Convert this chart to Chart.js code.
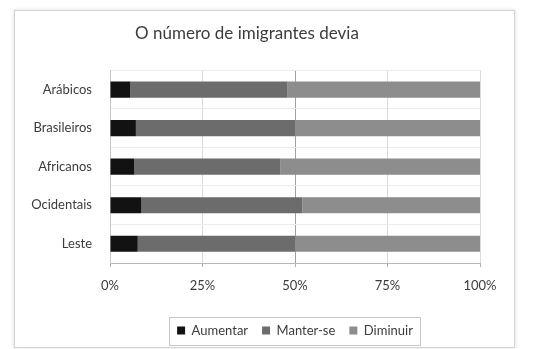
<!DOCTYPE html>
<html>
<head>
<meta charset="utf-8">
<script src="https://cdn.jsdelivr.net/npm/chart.js@4.4.1/dist/chart.umd.min.js"></script>
<style>
  html, body { margin: 0; padding: 0; background: #fff; }
  #frame {
    position: absolute; left: 14px; top: 10px; width: 499px; height: 336px;
    border: 1px solid #d4d4d4; box-shadow: 0 0 4px rgba(0,0,0,0.15); background: #fff;
  }
  #wrap { position: absolute; left: 0; top: 0; width: 536px; height: 349px; }
</style>
</head>
<body>
<div id="frame"></div>
<div id="wrap"><canvas id="chart" width="536" height="349"></canvas></div>
<script>
// data (percent of answers)
var categories = ["Arábicos", "Brasileiros", "Africanos", "Ocidentais", "Leste"];
var seriesNames = ["Aumentar", "Manter-se", "Diminuir"];
var aumentar = [5.5, 7, 6.5, 8.5, 7.5];
var manter = [42.5, 43, 39.5, 43.5, 42.5];
var diminuir = [52, 50, 54, 48, 50];
var tickValues = [0, 25, 50, 75, 100];
var colors = ["#121212", "#6c6c6c", "#8d8d8d"];

var textColor = "#3c3c3c";
var fontFamily = "Lato, 'Open Sans', sans-serif";

// legend sits under the plot area (not the whole chart) and has a box round it
var legendBox = {
    id: "legendBox",
    afterLayout: function (chart) {
        var lg = chart.legend;
        var shift = (chart.chartArea.left + chart.chartArea.right) / 2 - (lg.left + lg.right) / 2;
        lg.left += shift;
        lg.right += shift;
    },
    afterDraw: function (chart) {
        var boxes = chart.legend.legendHitBoxes;
        if (!boxes || !boxes.length) return;
        var left = boxes[0].left - 8;
        var last = boxes[boxes.length - 1];
        var right = last.left + last.width + 7;
        var top = boxes[0].top - 7;
        var bottom = boxes[0].top + boxes[0].height + 8;
        var ctx = chart.ctx;
        ctx.save();
        ctx.strokeStyle = "#c8c8c8";
        ctx.lineWidth = 1;
        ctx.strokeRect(Math.round(left) + 0.5, Math.round(top) + 0.5, Math.round(right - left), Math.round(bottom - top));
        ctx.restore();
    }
};

var ctx = document.getElementById("chart").getContext("2d");
var chart = new Chart(ctx, {
    type: "bar",
    data: {
        labels: categories,
        datasets: [{
            label: seriesNames[0],
            data: aumentar,
            backgroundColor: colors[0]
        }, {
            label: seriesNames[1],
            data: manter,
            backgroundColor: colors[1]
        }, {
            label: seriesNames[2],
            data: diminuir,
            backgroundColor: colors[2]
        }]
    },
    options: {
        indexAxis: "y",
        responsive: false,
        animation: false,
        devicePixelRatio: 1,
        layout: { padding: { left: 14, right: 56, top: 10, bottom: 2 } },
        datasets: { bar: { categoryPercentage: 0.42, barPercentage: 1 } },
        scales: {
            x: {
                stacked: true,
                min: 0,
                max: 100,
                afterBuildTicks: function (scale) {
                    scale.ticks = tickValues.map(function (v) { return { value: v }; });
                },
                afterFit: function (scale) { scale.height = 47; },
                grid: {
                    color: function (c) { return c.tick && c.tick.value === 50 ? "#a0a0a0" : "#dadada"; },
                    tickLength: 4,
                    tickColor: "#b0b0b0"
                },
                border: { display: true, color: "#b8b8b8" },
                ticks: {
                    padding: 11,
                    color: textColor,
                    font: { family: fontFamily, size: 13 },
                    callback: function (v) { return v + "%"; }
                }
            },
            y: {
                stacked: true,
                afterFit: function (scale) { scale.width = 96; },
                grid: { offset: true, color: "#ececec", drawTicks: false },
                border: { display: true, color: "#c8c8c8" },
                ticks: {
                    padding: 18,
                    color: textColor,
                    font: { family: fontFamily, size: 13 }
                }
            }
        },
        plugins: {
            title: {
                display: true,
                text: "O número de imigrantes devia",
                color: textColor,
                font: { family: fontFamily, size: 17, weight: "normal" },
                padding: { top: 13, bottom: 27 }
            },
            legend: {
                position: "bottom",
                labels: {
                    color: textColor,
                    font: { family: fontFamily, size: 13 },
                    boxWidth: 8,
                    boxHeight: 8,
                    padding: 14
                }
            },
            tooltip: { enabled: false }
        }
    },
    plugins: [legendBox]
});
</script>
</body>
</html>
